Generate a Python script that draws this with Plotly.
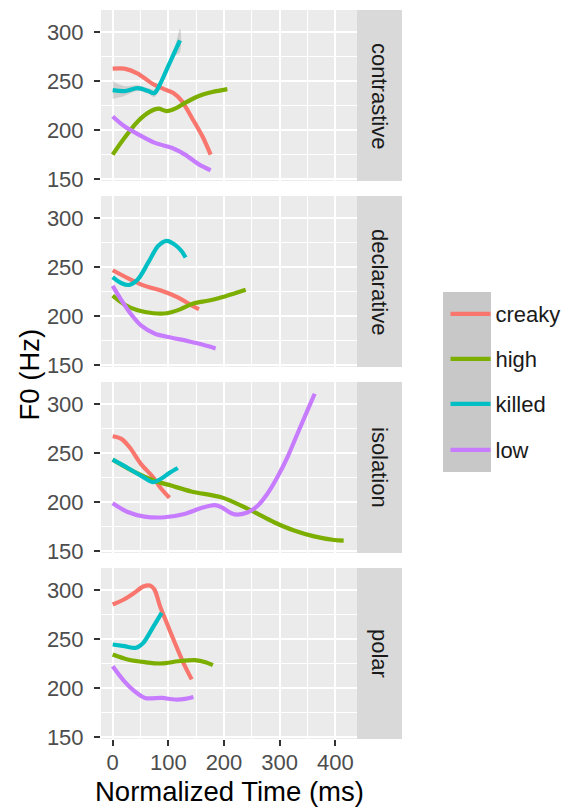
import plotly.graph_objects as go

W, H = 576, 808

# ---------------- data ----------------
facets = ["contrastive", "declarative", "isolation", "polar"]
groups = ["creaky", "high", "killed", "low"]
colors = ["#F8766D", "#7CAE00", "#00BFC4", "#C77CFF"]

x_ticks = [0, 100, 200, 300, 400]
y_ticks = [150, 200, 250, 300]

# contrastive
t_con_creaky = [0, 21, 45, 73, 97, 109, 124, 142, 161, 176]
f_con_creaky = [263, 263, 258, 247, 241, 238, 230, 213, 194, 175]
t_con_high = [0, 21, 45, 67, 82, 97, 112, 130, 155, 179, 206]
f_con_high = [175, 192, 209, 219, 222, 219.5, 222, 228, 235, 239, 242]
t_con_killed = [0, 21, 45, 64, 75, 85, 97, 112, 121]
f_con_killed = [241, 240, 243, 240, 238, 247, 262, 281, 292]
se_con_killed = [9, 5, 3, 3, 4, 3, 3, 5, 12]
t_con_low = [0, 21, 45, 76, 106, 130, 155, 176]
f_con_low = [214, 204, 196, 187, 182, 175, 165, 159]

# declarative
t_dec_creaky = [0, 27, 58, 88, 118, 139, 155]
f_dec_creaky = [247, 239, 231, 226, 219, 212, 207]
t_dec_high = [0, 21, 45, 73, 97, 121, 145, 173, 203, 239]
f_dec_high = [221, 212, 206, 203, 203, 207, 213, 216, 220.5, 227]
t_dec_killed = [0, 15, 30, 45, 64, 82, 97, 112, 124, 131]
f_dec_killed = [240, 234, 232, 237.5, 255, 272, 277, 273, 266.5, 260]
t_dec_low = [0, 15, 33, 52, 76, 106, 136, 161, 185]
f_dec_low = [231, 217, 202, 190, 182, 178, 174.4, 171, 167]

# isolation
t_iso_creaky = [0, 15, 30, 51, 72, 87, 102]
f_iso_creaky = [267.5, 265, 256.5, 239, 226, 214, 204.5]
t_iso_high = [0, 39, 75, 105, 141, 195, 225, 254, 290, 326, 362, 398, 415]
f_iso_high = [243.5, 231, 222, 217, 211, 205, 198, 190, 179.5, 171, 165, 161.3, 160.6]
t_iso_killed = [0, 27, 51, 72, 87, 102, 117]
f_iso_killed = [243.5, 235, 227, 220.5, 224, 230, 235]
t_iso_low = [0, 27, 57, 93, 129, 159, 183, 195, 213, 225, 243, 261, 278, 296, 314, 332, 350, 363]
f_iso_low = [199, 190, 185.3, 184.6, 188, 194, 197, 195, 188.7, 187.3, 189.7, 196.6, 208.6,
             225.7, 246, 270, 294, 311]

# polar
t_pol_creaky = [0, 21, 39, 55, 67, 75, 85, 97, 112, 127, 142]
f_pol_creaky = [285.7, 291, 297.6, 304, 305, 301, 284, 267, 246, 226, 209]
t_pol_high = [0, 27, 58, 88, 118, 148, 167, 180]
f_pol_high = [234.5, 229.4, 226.6, 225.3, 227.6, 228.7, 226.6, 223.5]
t_pol_killed = [0, 21, 42, 55, 70, 88]
f_pol_killed = [244.7, 243, 241.3, 246.4, 260, 277]
t_pol_low = [0, 21, 39, 58, 88, 112, 130, 145]
f_pol_low = [222.5, 207, 197, 190, 190, 188.4, 189, 191]

series = {
    "contrastive": [(t_con_creaky, f_con_creaky), (t_con_high, f_con_high),
                    (t_con_killed, f_con_killed), (t_con_low, f_con_low)],
    "declarative": [(t_dec_creaky, f_dec_creaky), (t_dec_high, f_dec_high),
                    (t_dec_killed, f_dec_killed), (t_dec_low, f_dec_low)],
    "isolation": [(t_iso_creaky, f_iso_creaky), (t_iso_high, f_iso_high),
                  (t_iso_killed, f_iso_killed), (t_iso_low, f_iso_low)],
    "polar": [(t_pol_creaky, f_pol_creaky), (t_pol_high, f_pol_high),
              (t_pol_killed, f_pol_killed), (t_pol_low, f_pol_low)],
}

# ---------------- layout geometry (pixels) ----------------
FONT = "Liberation Sans, Arial, Helvetica, sans-serif"
OFF = 8  # the page body adds an 8px margin; compensate so the picture lands in place
px_x = lambda p: (p - OFF) / W
px_y = lambda p: 1 - (p - OFF) / H

panel_left, panel_right = 101, 357
strip_right = 402
panel_tops = [10, 196, 382, 568]
panel_h = 171

fig = go.Figure()

for i, facet in enumerate(facets):
    ax = "" if i == 0 else str(i + 1)
    xref, yref = "x" + ax, "y" + ax
    # confidence ribbon (contrastive killed)
    if facet == "contrastive":
        hi = [f + s for f, s in zip(f_con_killed, se_con_killed)]
        lo = [f - s for f, s in zip(f_con_killed, se_con_killed)]
        fig.add_trace(go.Scatter(
            x=t_con_killed + t_con_killed[::-1], y=hi + lo[::-1],
            fill="toself", fillcolor="rgba(153,153,153,0.35)",
            line=dict(width=0, shape="spline"), mode="lines",
            hoverinfo="skip", showlegend=False, xaxis=xref, yaxis=yref))
    for g, (name, col) in enumerate(zip(groups, colors)):
        tx, fy = series[facet][g]
        fig.add_trace(go.Scatter(
            x=tx, y=fy, mode="lines", name=name,
            line=dict(color=col, width=4.2, shape="spline", smoothing=0.9),
            showlegend=(i == 0),
            legend="legend" if g == 0 else "legend%d" % (g + 1),
            xaxis=xref, yaxis=yref))

    top = panel_tops[i]
    bot = top + panel_h
    fig.update_layout(**{
        "xaxis" + ax: dict(
            domain=[px_x(panel_left), px_x(panel_right)], anchor=yref,
            range=[-21, 439], tickmode="array", tickvals=x_ticks,
            showticklabels=(i == 3), ticks="outside" if i == 3 else "",
            ticklen=6, tickwidth=2, tickcolor="#333333", ticklabelstandoff=-2,
            tickfont=dict(family=FONT, size=22, color="#4D4D4D"),
            showgrid=True, gridcolor="white", gridwidth=2,
            minor=dict(tickmode="array", tickvals=[50, 150, 250, 350], showgrid=True,
                       gridcolor="white", gridwidth=1, ticks=""),
            zeroline=False, showline=False, automargin=False, fixedrange=True),
        "yaxis" + ax: dict(
            domain=[px_y(bot), px_y(top)], anchor=xref,
            range=[148, 323], tickmode="array", tickvals=y_ticks,
            ticks="outside", ticklen=6, tickwidth=2, tickcolor="#333333",
            ticklabelstandoff=6,
            tickfont=dict(family=FONT, size=22, color="#4D4D4D"),
            showgrid=True, gridcolor="white", gridwidth=2,
            minor=dict(tickmode="array", tickvals=[175, 225, 275], showgrid=True,
                       gridcolor="white", gridwidth=1, ticks=""),
            zeroline=False, showline=False, automargin=False, fixedrange=True),
    })
    # strip
    fig.add_shape(type="rect", xref="paper", yref="paper",
                  x0=px_x(panel_right), x1=px_x(strip_right),
                  y0=px_y(bot), y1=px_y(top),
                  fillcolor="#D9D9D9", line=dict(width=0), layer="below")
    fig.add_annotation(xref="paper", yref="paper",
                       x=px_x((panel_right + strip_right) / 2), y=px_y((top + bot) / 2),
                       text=facet, textangle=90, showarrow=False,
                       font=dict(family=FONT, size=22, color="#1A1A1A"),
                       xanchor="center", yanchor="middle")

# legend background (key boxes)
fig.add_shape(type="rect", xref="paper", yref="paper",
              x0=px_x(443), x1=px_x(491), y0=px_y(472), y1=px_y(292),
              fillcolor="#C8C8C8", line=dict(width=0), layer="below")

legend_centers = [314, 359, 404, 450]
leg_common = dict(xanchor="left", yanchor="middle", bgcolor="rgba(0,0,0,0)",
                  font=dict(family=FONT, size=22, color="#1A1A1A"),
                  itemwidth=40, borderwidth=0, xref="paper", yref="paper")
legend_kw = {}
for g, yc in enumerate(legend_centers):
    key = "legend" if g == 0 else "legend%d" % (g + 1)
    legend_kw[key] = dict(x=px_x(445.5), y=px_y(yc), **leg_common)

# axis titles
fig.add_annotation(xref="paper", yref="paper", x=px_x(29), y=px_y((10 + 739) / 2),
                   text="F0 (Hz)", textangle=-90, showarrow=False,
                   font=dict(family=FONT, size=27.5, color="black"),
                   xanchor="center", yanchor="middle")
fig.add_annotation(xref="paper", yref="paper", x=px_x((panel_left + panel_right) / 2),
                   y=px_y(791), text="Normalized Time (ms)", showarrow=False,
                   font=dict(family=FONT, size=27.5, color="black"),
                   xanchor="center", yanchor="middle")

fig.update_layout(
    width=W, height=H, template="none",
    margin=dict(l=0, r=0, t=0, b=0, pad=0),
    paper_bgcolor="white", plot_bgcolor="#EBEBEB",
    showlegend=True,
    font=dict(family=FONT),
    **legend_kw,
)

fig.write_html("out.html")
